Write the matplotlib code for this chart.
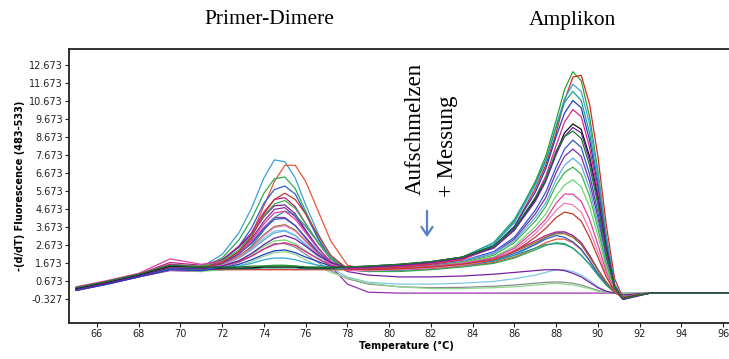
from matplotlib import pyplot as plt
from matplotlib.patches import FancyArrowPatch

temps = [65, 66.5, 68, 69.5, 71,
         72, 72.8, 73.4, 74, 74.5, 75, 75.5, 76, 76.6, 77.2,
         78, 79, 80.5, 82, 83.5, 85,
         86, 87, 87.5, 88, 88.4, 88.8, 89.2, 89.6, 90, 90.4, 90.8, 91.2, 91.8, 92.5, 97]

# Samples with a strong amplicon peak
strong_amp = [
    [0.2, 0.55, 0.95, 1.35, 1.3, 1.3, 1.35, 1.4, 1.5, 1.55, 1.55, 1.5, 1.45, 1.4, 1.35,
     1.35, 1.4, 1.5, 1.65, 1.9, 2.7, 4.0, 6.2, 7.6, 9.6, 11.3, 12.3, 11.8, 9.8, 6.8, 3.2, 0.5, -0.3, -0.15, 0.0, 0.0],
    [0.25, 0.6, 1.0, 1.45, 1.35, 1.3, 1.3, 1.3, 1.3, 1.3, 1.3, 1.3, 1.3, 1.3, 1.3,
     1.3, 1.35, 1.45, 1.6, 1.85, 2.6, 3.7, 5.8, 7.1, 8.9, 10.7, 12.0, 12.1, 10.5, 7.6, 3.8, 0.8, -0.25, -0.15, 0.0, 0.0],
    [0.2, 0.55, 0.95, 1.4, 1.35, 1.4, 1.5, 1.65, 1.85, 1.95, 1.95, 1.85, 1.7, 1.55, 1.45,
     1.4, 1.45, 1.55, 1.7, 1.95, 2.7, 3.9, 6.0, 7.3, 9.3, 10.8, 11.6, 11.2, 9.4, 6.6, 3.1, 0.5, -0.3, -0.15, 0.0, 0.0],
    [0.3, 0.65, 1.05, 1.5, 1.4, 1.35, 1.35, 1.35, 1.4, 1.4, 1.4, 1.4, 1.35, 1.35, 1.35,
     1.35, 1.4, 1.5, 1.7, 2.0, 2.8, 4.1, 6.1, 7.4, 9.2, 10.6, 11.2, 10.7, 8.9, 6.2, 2.9, 0.4, -0.35, -0.15, 0.0, 0.0],
    [0.15, 0.5, 0.9, 1.3, 1.25, 1.4, 1.6, 1.85, 2.15, 2.35, 2.4, 2.25, 2.0, 1.75, 1.5,
     1.4, 1.45, 1.55, 1.7, 1.95, 2.6, 3.7, 5.6, 6.9, 8.7, 10.0, 10.7, 10.3, 8.5, 5.9, 2.7, 0.4, -0.35, -0.15, 0.0, 0.0],
    [0.3, 0.65, 1.05, 1.6, 1.45, 1.5, 1.75, 2.05, 2.45, 2.7, 2.8, 2.65, 2.3, 1.9, 1.55,
     1.35, 1.4, 1.5, 1.65, 1.9, 2.5, 3.5, 5.3, 6.5, 8.2, 9.5, 10.2, 9.8, 8.1, 5.6, 2.5, 0.3, -0.3, -0.15, 0.0, 0.0],
    [0.25, 0.6, 1.0, 1.5, 1.45, 1.4, 1.4, 1.4, 1.45, 1.45, 1.45, 1.45, 1.4, 1.4, 1.4,
     1.45, 1.5, 1.6, 1.75, 2.0, 2.6, 3.6, 5.2, 6.3, 7.8, 8.9, 9.4, 9.1, 7.6, 5.3, 2.4, 0.3, -0.3, -0.15, 0.0, 0.0],
    [0.2, 0.55, 0.95, 1.4, 1.35, 1.5, 1.8, 2.2, 2.7, 3.05, 3.2, 3.0, 2.6, 2.1, 1.7,
     1.4, 1.45, 1.55, 1.7, 1.95, 2.5, 3.5, 5.1, 6.2, 7.7, 8.7, 9.2, 8.9, 7.4, 5.2, 2.3, 0.3, -0.35, -0.2, 0.0, 0.0],
    [0.3, 0.65, 1.05, 1.55, 1.45, 1.45, 1.45, 1.5, 1.5, 1.5, 1.5, 1.5, 1.45, 1.45, 1.45,
     1.45, 1.5, 1.6, 1.75, 2.0, 2.6, 3.6, 5.3, 6.3, 7.9, 8.7, 9.0, 8.6, 7.1, 4.9, 2.2, 0.3, -0.3, -0.15, 0.0, 0.0],
]
strong_colors = ['#2ca02c', '#d62728', '#31a9d6', '#1f9e89', '#1f3fbf',
                 '#d6278f', '#111111', '#6a1fa0', '#1e7a2e']

# Samples with medium amplicon and primer-dimer peaks
medium_amp = [
    [0.2, 0.55, 0.95, 1.35, 1.3, 1.65, 2.2, 2.75, 3.55, 4.1, 4.15, 3.75, 3.1, 2.3, 1.7,
     1.4, 1.4, 1.5, 1.6, 1.8, 2.3, 3.1, 4.6, 5.6, 7.0, 8.0, 8.5, 8.1, 6.6, 4.5, 2.0, 0.3, -0.3, -0.15, 0.0, 0.0],
    [0.15, 0.5, 0.9, 1.3, 1.25, 1.7, 2.3, 3.0, 4.0, 4.65, 4.75, 4.25, 3.45, 2.5, 1.75,
     1.35, 1.35, 1.45, 1.55, 1.75, 2.2, 3.0, 4.4, 5.3, 6.7, 7.6, 8.0, 7.6, 6.2, 4.2, 1.9, 0.25, -0.35, -0.15, 0.0, 0.0],
    [0.25, 0.6, 1.0, 1.45, 1.35, 1.55, 1.95, 2.4, 2.95, 3.35, 3.45, 3.2, 2.7, 2.1, 1.6,
     1.35, 1.4, 1.5, 1.6, 1.8, 2.2, 2.9, 4.2, 5.0, 6.3, 7.1, 7.5, 7.1, 5.8, 3.9, 1.7, 0.2, -0.3, -0.15, 0.0, 0.0],
    [0.3, 0.65, 1.05, 1.6, 1.5, 1.8, 2.4, 3.2, 4.3, 4.95, 5.15, 4.7, 3.85, 2.8, 1.9,
     1.35, 1.35, 1.4, 1.5, 1.7, 2.1, 2.8, 4.0, 4.8, 6.0, 6.7, 7.0, 6.6, 5.4, 3.6, 1.6, 0.2, -0.3, -0.15, 0.0, 0.0],
    [0.2, 0.55, 0.95, 1.4, 1.35, 1.5, 1.8, 2.15, 2.6, 2.9, 2.95, 2.75, 2.35, 1.9, 1.5,
     1.3, 1.3, 1.4, 1.5, 1.7, 2.0, 2.6, 3.7, 4.4, 5.4, 6.0, 6.3, 5.9, 4.8, 3.2, 1.4, 0.15, -0.3, -0.15, 0.0, 0.0],
    [0.35, 0.7, 1.1, 1.9, 1.6, 1.75, 2.25, 2.9, 3.85, 4.45, 4.55, 4.1, 3.35, 2.45, 1.75,
     1.3, 1.3, 1.4, 1.5, 1.65, 1.95, 2.5, 3.5, 4.1, 5.0, 5.5, 5.5, 5.1, 4.1, 2.7, 1.2, 0.1, -0.3, -0.15, 0.0, 0.0],
    [0.2, 0.55, 0.95, 1.3, 1.25, 1.55, 2.0, 2.5, 3.2, 3.65, 3.75, 3.45, 2.85, 2.15, 1.6,
     1.25, 1.25, 1.3, 1.4, 1.55, 1.85, 2.4, 3.3, 3.9, 4.6, 5.0, 4.9, 4.5, 3.5, 2.3, 1.0, 0.1, -0.25, -0.1, 0.0, 0.0],
    [0.25, 0.6, 1.0, 1.45, 1.4, 1.7, 2.3, 3.1, 4.4, 5.2, 5.55, 5.2, 4.4, 3.2, 2.1,
     1.35, 1.3, 1.35, 1.45, 1.6, 1.85, 2.3, 3.1, 3.6, 4.2, 4.5, 4.4, 4.0, 3.1, 2.0, 0.9, 0.1, -0.25, -0.1, 0.0, 0.0],
]
medium_colors = ['#3355cc', '#7b2fa8', '#5fb0e0', '#3cb44b',
                 '#6fd66f', '#e040a0', '#f07ab8', '#c0392b']

# Samples dominated by the primer-dimer peak
weak_amp = [
    [0.3, 0.65, 1.05, 1.5, 1.45, 2.15, 3.35, 4.7, 6.4, 7.4, 7.3, 6.4, 4.9, 3.3, 2.05,
     1.3, 1.2, 1.25, 1.35, 1.5, 1.75, 2.1, 2.7, 3.1, 3.35, 3.4, 3.2, 2.8, 2.1, 1.3, 0.6, 0.05, -0.2, -0.1, 0.0, 0.0],
    [0.2, 0.55, 0.95, 1.35, 1.3, 1.65, 2.3, 3.25, 4.85, 6.2, 7.1, 7.1, 6.2, 4.55, 2.9,
     1.55, 1.3, 1.3, 1.35, 1.5, 1.7, 2.0, 2.5, 2.8, 3.0, 3.0, 2.8, 2.4, 1.8, 1.1, 0.5, 0.05, -0.2, -0.1, 0.0, 0.0],
    [0.25, 0.6, 1.0, 1.45, 1.4, 1.95, 2.95, 4.1, 5.55, 6.35, 6.45, 5.8, 4.55, 3.05, 1.9,
     1.3, 1.2, 1.2, 1.3, 1.45, 1.65, 1.95, 2.4, 2.65, 2.8, 2.75, 2.5, 2.1, 1.6, 1.0, 0.45, 0.05, -0.2, -0.1, 0.0, 0.0],
    [0.2, 0.55, 0.95, 1.4, 1.35, 1.8, 2.6, 3.6, 5.0, 5.75, 5.95, 5.5, 4.4, 3.0, 1.9,
     1.3, 1.25, 1.3, 1.4, 1.55, 1.8, 2.2, 2.7, 3.0, 3.2, 3.1, 2.85, 2.45, 1.8, 1.1, 0.5, 0.05, -0.2, -0.1, 0.0, 0.0],
    [0.3, 0.65, 1.05, 1.7, 1.55, 1.85, 2.6, 3.35, 4.5, 5.2, 5.3, 4.8, 3.85, 2.8, 1.9,
     1.35, 1.3, 1.35, 1.45, 1.6, 1.9, 2.35, 2.9, 3.2, 3.4, 3.4, 3.2, 2.8, 2.1, 1.3, 0.6, 0.05, -0.25, -0.1, 0.0, 0.0],
    [0.2, 0.55, 0.95, 1.35, 1.3, 1.85, 2.55, 3.25, 4.25, 4.85, 4.9, 4.4, 3.5, 2.5, 1.7,
     1.2, 1.0, 0.9, 0.9, 0.95, 1.05, 1.15, 1.25, 1.3, 1.3, 1.25, 1.1, 0.9, 0.6, 0.3, 0.1, 0.0, -0.1, -0.05, 0.0, 0.0],
    [0.25, 0.6, 1.0, 1.5, 1.4, 1.55, 2.0, 2.6, 3.5, 4.2, 4.55, 4.35, 3.7, 2.8, 1.95,
     1.4, 1.3, 1.35, 1.45, 1.6, 1.8, 2.1, 2.5, 2.7, 2.75, 2.7, 2.5, 2.1, 1.6, 1.0, 0.45, 0.05, -0.2, -0.1, 0.0, 0.0],
    [0.3, 0.65, 1.05, 1.5, 1.45, 1.6, 2.05, 2.55, 3.25, 3.7, 3.8, 3.5, 2.9, 2.2, 1.65,
     1.35, 1.3, 1.35, 1.45, 1.6, 1.9, 2.3, 2.8, 3.1, 3.3, 3.3, 3.1, 2.7, 2.0, 1.3, 0.6, 0.05, -0.25, -0.1, 0.0, 0.0],
]
weak_colors = ['#3aa0d8', '#e8553a', '#2fa84f', '#2b5fd0',
               '#c2188f', '#7a1fa2', '#2a9d8f', '#8c6d1f']

# No-template / primer-dimer only samples
dimer_only = [
    [0.15, 0.5, 0.9, 1.25, 1.2, 1.6, 2.15, 2.8, 3.65, 4.2, 4.2, 3.75, 3.05, 2.2, 1.5,
     0.5, 0.05, 0.0, 0.0, 0.0, 0.0, 0.0, 0.0, 0.0, 0.0, 0.0, 0.0, 0.0, 0.0, 0.0, 0.0, 0.0, 0.0, 0.0, 0.0, 0.0],
    [0.2, 0.55, 0.95, 1.3, 1.25, 1.5, 1.95, 2.45, 3.05, 3.45, 3.5, 3.2, 2.65, 2.0, 1.4,
     0.9, 0.6, 0.5, 0.5, 0.55, 0.65, 0.8, 1.0, 1.15, 1.3, 1.3, 1.2, 1.0, 0.7, 0.35, 0.1, 0.0, -0.1, -0.05, 0.0, 0.0],
    [0.25, 0.6, 1.0, 1.35, 1.3, 1.4, 1.7, 2.05, 2.45, 2.75, 2.75, 2.55, 2.15, 1.7, 1.25,
     0.8, 0.5, 0.35, 0.3, 0.32, 0.38, 0.45, 0.55, 0.6, 0.62, 0.6, 0.55, 0.45, 0.3, 0.15, 0.05, 0.0, -0.05, 0.0, 0.0, 0.0],
    [0.2, 0.55, 0.95, 1.3, 1.2, 1.3, 1.5, 1.75, 2.05, 2.25, 2.3, 2.15, 1.85, 1.5, 1.15,
     0.85, 0.55, 0.35, 0.25, 0.25, 0.3, 0.35, 0.45, 0.5, 0.55, 0.5, 0.45, 0.35, 0.25, 0.1, 0.05, 0.0, 0.0, 0.0, 0.0, 0.0],
]
dimer_colors = ['#9b30b0', '#7ec8e3', '#8a8a8a', '#8fd98f']

y_ticks = [-0.327, 0.673, 1.673, 2.673, 3.673, 4.673, 5.673, 6.673,
           7.673, 8.673, 9.673, 10.673, 11.673, 12.673]
x_ticks = list(range(66, 97, 2))

W, H = 729, 359
fig = plt.figure(figsize=(W / 100, H / 100), dpi=100)
ax = fig.add_axes([69 / W, 1 - 323 / H, 675 / W, 274 / H])

for group, colors in [(dimer_only, dimer_colors), (weak_amp, weak_colors),
                      (medium_amp, medium_colors), (strong_amp, strong_colors)]:
    for values, color in zip(group, colors):
        ax.plot(temps, values, color=color, lw=0.9)

ax.set_xlim(64.66, 97)
ax.set_ylim(-1.66, 13.56)
ax.set_xticks(x_ticks)
ax.set_yticks(y_ticks)
ax.set_yticklabels([f'{v:.3f}' for v in y_ticks])
ax.tick_params(labelsize=7, length=3, width=0.8, pad=1.5, colors='#222222')
ax.set_xlabel('Temperature (°C)', fontsize=7, fontweight='bold', labelpad=1)
ax.set_ylabel('-(d/dT) Fluorescence (483-533)', fontsize=7, fontweight='bold', labelpad=3)
for spine in ax.spines.values():
    spine.set_linewidth(1.3)
    spine.set_color('#222222')

# Annotations above and inside the plot
serif = 'Liberation Serif'
fig.text(269 / W, 1 - 20 / H, 'Primer-Dimere', family=serif, fontsize=15.5, ha='center', va='center')
fig.text(572 / W, 1 - 20 / H, 'Amplikon', family=serif, fontsize=15.5, ha='center', va='center')
fig.text(415 / W, 1 - 195 / H, 'Aufschmelzen', family=serif, fontsize=16.5,
         rotation=90, ha='center', va='bottom')
fig.text(447 / W, 1 - 197 / H, '+ Messung', family=serif, fontsize=16.5,
         rotation=90, ha='center', va='bottom')
fig.add_artist(FancyArrowPatch(
    (427 / W, 1 - 208 / H), (427 / W, 1 - 240 / H), transform=fig.transFigure,
    arrowstyle='->,head_length=6,head_width=4', color='#5b7fc4', lw=1.6, mutation_scale=1))

fig.savefig('out.png', dpi=100)
